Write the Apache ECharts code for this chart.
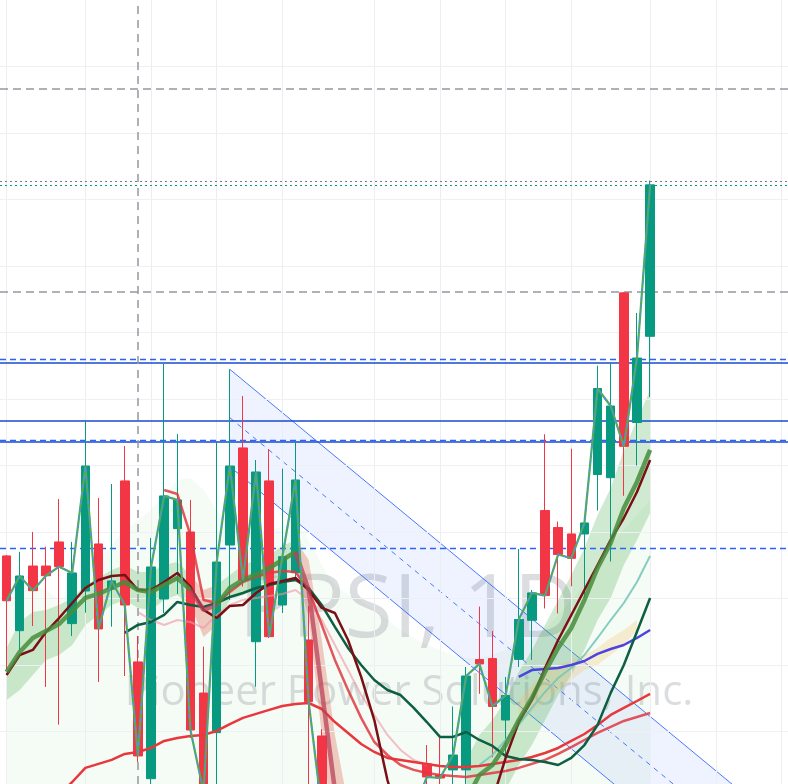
<!DOCTYPE html>
<html><head><meta charset="utf-8">
<script src="https://cdn.jsdelivr.net/npm/echarts/dist/echarts.min.js"></script>
<style>html,body{margin:0;padding:0;background:#ffffff}#c{width:788px;height:784px}</style>
</head><body><div id="c"></div>
<script>
// ---------- data ----------
const categories = Array.from({length: 60}, (_, i) => 'D' + (i + 1));

const opens  = [5.320,4.758,5.244,5.244,5.425,4.811,5.056,5.410,5.071,5.884,
                4.523,3.645,4.996,5.525,5.500,4.289,3.991,5.402,6.132,4.675,
                5.884,4.951,5.194,4.688,3.966,3.40,3.18,3.02,3.08,2.96,
                3.04,3.22,3.756,3.673,3.711,3.711,4.541,4.548,4.086,4.542,
                4.836,5.661,5.534,5.485,5.485,5.932,5.908,7.298,6.323,6.971];
const closes = [4.983,5.169,5.059,5.171,5.239,5.192,5.996,4.771,5.132,4.951,
                3.816,5.237,5.771,5.741,4.011,3.545,5.274,5.996,5.139,5.951,
                4.713,5.314,5.891,4.224,3.410,3.18,3.02,3.08,2.96,3.04,
                3.22,3.40,3.658,3.650,3.823,4.417,4.508,4.188,4.271,4.842,
                5.042,5.022,5.331,5.302,5.568,6.579,6.447,6.144,6.808,8.110];
const lows   = [4.462,4.613,4.793,4.335,4.051,4.718,4.893,4.372,4.788,4.417,
                3.771,3.590,4.891,5.034,3.951,3.485,3.560,4.989,5.089,4.337,
                4.703,4.891,5.139,3.605,3.335,3.10,2.95,2.92,2.90,2.88,
                3.00,3.15,3.560,3.560,3.560,3.550,4.283,3.806,3.763,4.485,
                4.538,4.925,4.887,5.092,5.007,5.661,5.278,5.772,5.999,6.515];
const highs  = [5.327,5.350,5.500,5.389,5.748,5.425,6.337,5.756,5.861,6.147,
                4.718,5.455,6.763,6.237,5.741,4.638,6.179,6.723,6.523,6.041,
                6.124,5.976,6.179,4.944,4.017,3.45,3.25,3.15,3.14,3.12,
                3.30,3.48,3.898,3.966,4.188,4.485,4.939,4.756,4.410,5.372,
                5.064,6.235,5.578,6.126,5.620,6.750,6.768,7.304,7.147,8.142];

const trendMid   = [4.447,4.598,4.703,4.756,4.808,4.906,5.004,5.034,5.079,5.124,
                    5.064,5.049,5.102,5.154,5.064,4.914,4.951,5.079,5.139,5.177,
                    5.229,5.289,5.350,5.064,4.312,3.560,3.034,null,null,null,
                    null,null,null,null,null,3.485,3.673,3.748,3.898,4.086,
                    4.252,4.447,4.628,4.778,4.989,5.229,5.417,5.680,5.876,6.117];
const trendUpper = [4.628,4.823,4.898,4.914,4.951,5.004,5.102,5.154,5.214,5.252,
                    5.199,5.199,5.252,5.274,5.177,5.064,5.102,5.177,5.252,5.289,
                    5.327,5.395,5.440,5.289,4.688,3.974,3.450,null,null,null,
                    null,null,null,null,null,3.786,3.974,4.086,4.237,4.447,
                    4.613,4.801,4.989,5.177,5.380,5.628,5.831,6.117,6.342,6.568];
const trendLower = [4.237,4.312,4.425,4.538,4.575,4.650,4.801,4.876,4.951,4.989,
                    4.929,4.914,4.989,5.026,4.951,4.710,4.800,4.989,5.026,5.079,
                    5.139,5.177,5.229,4.860,3.980,3.150,2.650,null,null,null,
                    null,null,null,null,null,3.184,3.372,3.447,3.560,3.748,
                    3.898,4.086,4.274,4.425,4.613,4.838,5.004,5.252,5.440,5.643];
const trendUpRanges = [[0,14],[16,22],[35,49]];
const trendDownRanges = [[14,16],[22,26]];

const maroonMA = [4.425,4.575,4.613,4.748,4.853,4.966,5.079,5.139,5.169,5.177,
                  5.064,5.064,5.124,5.192,5.087,4.914,4.853,4.944,4.951,5.041,
                  5.109,5.132,5.154,5.064,4.929,4.891,4.688,4.410,4.086,3.635,
                  3.30,3.10,3.00,2.95,2.97,3.05,3.20,3.485,3.801,4.071,
                  4.237,4.477,4.688,4.876,5.064,5.252,5.440,5.605,5.801,6.041];
const darkGreenMA = [null,null,null,null,null,null,null,null,null,4.741,
                  4.801,4.823,4.876,4.974,4.951,4.936,4.966,5.011,5.041,5.079,
                  5.102,5.124,5.139,5.079,4.951,4.786,4.628,4.500,4.387,4.312,
                  4.274,4.177,4.071,3.959,3.959,3.996,3.936,3.891,3.816,3.793,
                  3.786,3.771,3.748,3.801,3.898,4.049,4.29,4.50,4.75,5.004];
const redLongMA = [null,null,null,null,3.523,3.620,3.726,3.756,3.786,3.831,
                  3.846,3.876,3.929,3.951,3.966,3.974,4.004,4.056,4.102,4.132,
                  4.162,4.192,4.207,4.214,4.169,4.071,3.989,3.906,3.846,3.801,
                  3.786,3.771,3.756,3.741,3.733,3.733,3.741,3.756,3.771,3.786,
                  3.808,3.838,3.876,3.929,3.981,4.049,4.124,4.177,4.229,4.282];
const redFastMA = [null,null,null,null,null,null,null,null,null,null,
                  null,null,5.816,5.786,5.477,4.989,4.966,5.049,5.124,5.162,
                  5.192,5.207,5.199,5.064,4.801,4.538,4.312,4.102,3.921,3.823,
                  3.748,3.711,3.688,3.673,3.665,3.658,3.673,3.688,3.703,3.726,
                  3.756,3.786,3.831,3.883,3.936,3.989,4.034,4.079,4.109,4.139];
const pinkMA = [null,null,null,null,null,null,null,null,null,null,
                  4.898,4.838,4.801,4.838,4.823,4.778,4.876,4.951,4.989,5.004,
                  5.019,5.034,5.064,4.989,4.838,4.650,4.462,4.274,4.124,3.974,
                  3.861,3.786,3.748];
const blueMA = [null,null,null,null,null,null,null,null,null,null,
                  null,null,null,null,null,null,null,null,null,null,
                  null,null,null,null,null,null,null,null,null,null,
                  null,null,null,null,null,null,null,null,null,4.410,
                  4.462,4.470,4.477,4.500,4.530,4.583,4.620,4.650,4.703,4.763];
const tealMA = [null,null,null,null,null,null,null,null,null,null,
                  null,null,null,null,null,null,null,null,null,null,
                  null,null,null,null,null,null,null,null,null,null,
                  null,null,null,null,null,null,3.748,3.823,3.936,4.049,
                  4.177,4.297,4.402,4.477,4.575,4.703,4.838,4.966,5.124,5.320];
const orangeUpper = [null,null,null,null,null,null,null,null,null,null,
                  null,null,null,null,null,null,null,null,null,null,
                  null,null,null,null,null,null,null,null,null,null,
                  null,null,null,null,null,null,null,null,null,4.237,
                  4.350,4.447,4.500,4.538,4.575,4.628,4.703,4.763,4.838];
const orangeLower = [null,null,null,null,null,null,null,null,null,null,
                  null,null,null,null,null,null,null,null,null,null,
                  null,null,null,null,null,null,null,null,null,null,
                  null,null,null,null,null,null,null,null,null,4.049,
                  4.147,4.237,4.312,4.387,4.462,4.500,4.575,4.650,4.763];
const cloudTop = [5.064,5.102,5.102,5.064,4.989,5.064,5.289,5.289,5.402,5.515,
                  5.590,5.665,5.778,5.891,5.906,5.816,5.665,5.553,5.515,5.492,
                  5.515,5.538,5.605,5.440,5.252,5.102,5.026,4.989,4.914,4.838,
                  4.763,4.703,4.650,4.613,4.575,4.553,4.553,4.575,4.613,4.688,
                  4.688,4.763,4.876,4.989,5.102,5.252,5.402,5.515,5.628,5.741];

// drawn channel (anchor index, price)
const channelIdx   = [17, 59];
const channelUpper = [6.723, 3.297];
const channelMid   = [6.359, 2.933];
const channelLower = [5.991, 2.565];

// horizontal levels
const grayDashLevels = [8.831, 7.312];
const grayDotLevel = 8.143;
const tealDotLevel = 8.109;
const blueDashLevels = [6.801, 6.190, 5.377];
const blueSolidLevels = [6.768, 6.340, 6.182];
const cursorIdx = 10;
const vGridIdx = [0, 6, 11, 16, 21, 28, 33, 38, 43, 49, 54, 59];
const hGridLevels = [4.0, 4.5, 5.0, 5.5, 6.0, 6.5, 7.0, 7.5, 8.0, 8.5, 9.0];
const yMin = 3.605, yMax = 9.5;

const watermarkTitle = 'PPSI, 1D';
const watermarkName = 'Pioneer Power Solutions, Inc.';

// ---------- build ----------
const candleData = opens.map((o, i) => [o, closes[i], lows[i], highs[i]]);
function inRanges(i, ranges) { return ranges.some(([a, b]) => i >= a && i <= b); }
function mask(arr, ranges) { return arr.map((v, i) => (v != null && inRanges(i, ranges)) ? v : '-'); }
function nz(arr) { return arr.map(v => v == null ? '-' : v); }
function diff(up, lo) { return up.map((v, i) => (v == null || lo[i] == null || v === '-' || lo[i] === '-') ? '-' : +(v - lo[i]).toFixed(3)); }

const upLo = mask(trendLower, trendUpRanges), upHi = mask(trendUpper, trendUpRanges);
const dnLo = mask(trendLower, trendDownRanges), dnHi = mask(trendUpper, trendDownRanges);

const chart = echarts.init(document.getElementById('c'), null, {renderer: 'canvas'});

function lineSeries(name, data, color, width, z, extra) {
  return Object.assign({
    name, type: 'line', data: nz(data), symbol: 'none', showSymbol: false,
    lineStyle: {color, width}, z, silent: true, connectNulls: false, animation: false
  }, extra || {});
}
function bandPair(id, lo, hi, fill, z) {
  return [
    {name: id + 'Lo', type: 'line', stack: id, data: lo, symbol: 'none', lineStyle: {opacity: 0}, z, silent: true, animation: false},
    {name: id + 'Hi', type: 'line', stack: id, data: diff(hi, lo), symbol: 'none', lineStyle: {opacity: 0}, areaStyle: {color: fill}, z, silent: true, animation: false}
  ];
}

const hLines = [];
grayDashLevels.forEach(v => hLines.push({yAxis: v, lineStyle: {color: '#9598a1', width: 1.5, type: [8, 5]}}));
hLines.push({yAxis: grayDotLevel, lineStyle: {color: '#787b86', width: 1, type: [2, 3]}});
hLines.push({yAxis: tealDotLevel, lineStyle: {color: '#089981', width: 1, type: [2, 3]}});
blueSolidLevels.forEach(v => hLines.push({yAxis: v, lineStyle: {color: '#1848cc', width: 1.5, type: 'solid'}}));
blueDashLevels.forEach(v => hLines.push({yAxis: v, lineStyle: {color: '#2962ff', width: 1.3, type: [6, 4]}}));
hLines.push({xAxis: categories[cursorIdx], lineStyle: {color: '#9598a1', width: 1.5, type: [8, 6]}});

const gridLines = vGridIdx.map(i => ({xAxis: categories[i], lineStyle: {color: '#eceef2', width: 1, type: 'solid'}}))
  .concat(hGridLevels.map(v => ({yAxis: v, lineStyle: {color: '#eef0f3', width: 1, type: 'solid'}})));

const option = {
  animation: false,
  backgroundColor: '#ffffff',
  grid: {left: 0, right: 0, top: 0, bottom: 0, containLabel: false},
  xAxis: {
    type: 'category', data: categories, boundaryGap: true,
    axisLine: {show: false}, axisTick: {show: false}, axisLabel: {show: false},
    splitLine: {show: false}
  },
  yAxis: {
    type: 'value', min: yMin, max: yMax,
    axisLine: {show: false}, axisTick: {show: false}, axisLabel: {show: false},
    splitLine: {show: false}
  },
  graphic: {elements: [
    {type: 'text', x: 408, y: 612, z: 0, silent: true,
     style: {text: watermarkTitle, font: '88px "Open Sans"', fill: 'rgba(120,123,134,0.26)', textAlign: 'center', textVerticalAlign: 'middle'}},
    {type: 'text', x: 409, y: 693, z: 0, silent: true,
     style: {text: watermarkName, font: '42px "Open Sans"', fill: 'rgba(120,123,134,0.26)', textAlign: 'center', textVerticalAlign: 'middle'}}
  ]},
  series: [
    {name: 'cloud', type: 'line', data: cloudTop, symbol: 'none', lineStyle: {opacity: 0},
     areaStyle: {color: 'rgba(76,175,80,0.08)', origin: 'start'}, z: 1, silent: true,
     markLine: {silent: true, symbol: ['none', 'none'], label: {show: false}, animation: false, data: gridLines}},
    {name: 'channel', type: 'custom', data: [[0, 0]], z: 2, silent: true,
     renderItem: function (params, api) {
       const u0 = api.coord([channelIdx[0], channelUpper[0]]), u1 = api.coord([channelIdx[1], channelUpper[1]]);
       const m0 = api.coord([channelIdx[0], channelMid[0]]), m1 = api.coord([channelIdx[1], channelMid[1]]);
       const l0 = api.coord([channelIdx[0], channelLower[0]]), l1 = api.coord([channelIdx[1], channelLower[1]]);
       return {type: 'group', children: [
         {type: 'polygon', shape: {points: [u0, u1, l1, l0]}, style: {fill: 'rgba(41,98,255,0.075)'}},
         {type: 'line', shape: {x1: u0[0], y1: u0[1], x2: u1[0], y2: u1[1]}, style: {stroke: '#2962ff', lineWidth: 1, opacity: 0.85}},
         {type: 'line', shape: {x1: l0[0], y1: l0[1], x2: l1[0], y2: l1[1]}, style: {stroke: '#2962ff', lineWidth: 1, opacity: 0.85}},
         {type: 'line', shape: {x1: m0[0], y1: m0[1], x2: m1[0], y2: m1[1]}, style: {stroke: '#2962ff', lineWidth: 1, lineDash: [5, 5], opacity: 0.85}}
       ]};
     }},
    ...bandPair('gband', upLo, upHi, 'rgba(76,175,80,0.38)', 3),
    ...bandPair('rband', dnLo, dnHi, 'rgba(226,110,90,0.5)', 3),
    ...bandPair('oband', nz(orangeLower), nz(orangeUpper), 'rgba(245,185,90,0.35)', 3),
    {name: 'price', type: 'candlestick', data: candleData, barWidth: 9, z: 5, silent: true,
     itemStyle: {color: '#089981', color0: '#f23645', borderColor: '#089981', borderColor0: '#f23645', borderWidth: 1},
     markLine: {silent: true, symbol: ['none', 'none'], label: {show: false}, animation: false, data: hLines}},
    lineSeries('pink', pinkMA, 'rgba(240,150,165,0.6)', 2, 6),
    lineSeries('teal', tealMA, 'rgba(120,200,185,0.9)', 2, 6),
    lineSeries('redLong', redLongMA, '#e8383d', 2.5, 6),
    lineSeries('redFast', redFastMA, 'rgba(225,55,65,0.85)', 2.5, 6),
    lineSeries('blue', blueMA, '#4b44e0', 2.5, 6),
    lineSeries('darkGreen', darkGreenMA, '#0d5e42', 2.5, 6),
    lineSeries('maroon', maroonMA, '#7a1015', 2.5, 6),
    lineSeries('trendUp', mask(trendMid, trendUpRanges), 'rgba(70,140,60,0.85)', 4.5, 6),
    lineSeries('trendDown', mask(trendMid, trendDownRanges), 'rgba(185,65,90,0.75)', 4.5, 6),
    lineSeries('closeLine', closes, '#4caf50', 2.2, 7),
    lineSeries('closeDash', closes, 'rgba(90,140,240,0.9)', 1.4, 8, {lineStyle: {color: 'rgba(90,140,240,0.9)', width: 1.4, type: [4, 4]}})
  ]
};
chart.setOption(option);
</script>
</body></html>
